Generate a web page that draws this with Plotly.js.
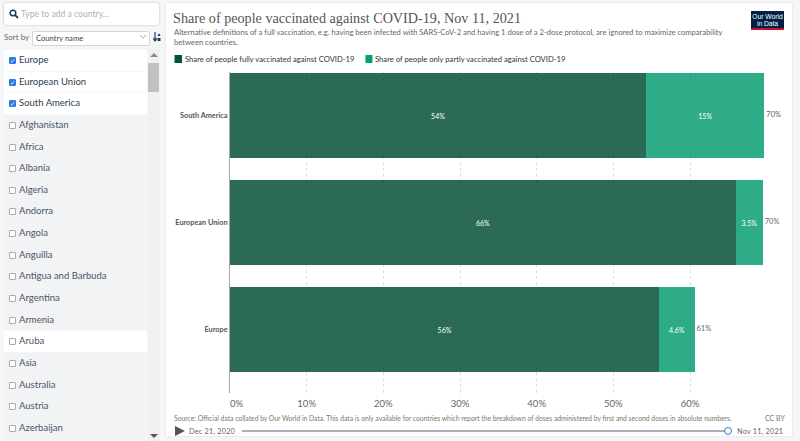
<!DOCTYPE html>
<html><head><meta charset="utf-8">
<script src="https://cdn.plot.ly/plotly-3.0.1.min.js"></script>
<style>
html,body{margin:0;padding:0;width:800px;height:441px;overflow:hidden;background:#f6f6f6;font-family:Lato,sans-serif}
.abs{position:absolute}
#card{left:166px;top:3px;width:626px;height:433px;background:#fff;box-shadow:0 0 2px rgba(0,0,0,.12)}
#plot{left:0;top:0;width:800px;height:441px}
#search{left:4px;top:3px;width:155px;height:22px;background:#fff;border-radius:2px;box-shadow:0 0 2px rgba(0,0,0,.3);color:#aab2bd;font-size:8.6px;line-height:22px;text-indent:17px}
#sortl{left:4px;top:32px;font-size:8px;color:#666}
#sort{left:32px;top:30.5px;width:116px;height:13px;border:1px solid #d5d5d5;border-radius:2px;background:#fff;font-size:7.6px;line-height:13px;text-indent:3px;color:#444}
#list{left:4px;top:50px;width:143px}
.row{height:20.65px;margin-bottom:1px;background:#f2f3f5;font-size:9.5px;line-height:20.65px;color:#4a5568;padding-left:15px;position:relative;width:128px}
.row.on{background:#fff;color:#2c3e50}
.row.w{background:#fff}
.row i{position:absolute;left:5px;top:7px;width:5px;height:5px;border:1px solid #aaa;border-radius:1px;background:#fff;font-style:normal}
.row.on i{background:#2a7de1;border-color:#2a7de1;color:#fff;font-size:6px;line-height:5px;text-align:center;font-family:"DejaVu Sans",sans-serif}
#sb{left:148px;top:49px;width:12px;height:392px;background:#f1f1f1}
#thumb{left:148px;top:63px;width:11px;height:29px;background:#c1c1c1}
#logo{left:751px;top:11px;width:33px;height:15px;background:#002147;border-bottom:2px solid #c8102e;color:#fff;font:6.7px/7px "Liberation Sans",sans-serif;text-align:center;padding-top:2px}
#track{left:242px;top:430px;width:484px;height:2px;background:#a8b0ba}
#knob{left:724px;top:427px;width:6px;height:6px;border:1.5px solid #2f80c8;border-radius:50%;background:#fff}
.date{top:426.5px;font-size:7.3px;color:#666;letter-spacing:.2px}
#play{left:175px;top:426px;width:0;height:0;border-left:10px solid #555;border-top:5.5px solid transparent;border-bottom:5.5px solid transparent}
</style></head><body>
<div id="card" class="abs"></div>
<div id="plot" class="abs"></div>
<div id="search" class="abs">Type to add a country...</div>
<svg class="abs" style="left:9px;top:9px" width="10" height="10" viewBox="0 0 10 10"><circle cx="4" cy="4" r="2.8" fill="none" stroke="#1d3d63" stroke-width="1.5"/><path d="M6 6L9 9" stroke="#1d3d63" stroke-width="1.8"/></svg>
<div id="sortl" class="abs">Sort by</div>
<div id="sort" class="abs">Country name</div>
<svg class="abs" style="left:139px;top:34px" width="8" height="6"><path d="M1 1L4 4L7 1" fill="none" stroke="#aaa"/></svg>
<svg class="abs" style="left:153px;top:32px" width="8" height="10" viewBox="0 0 8 10"><path d="M2 0V8M0 6L2 9L4 6" fill="none" stroke="#1d3d63" stroke-width="1.2"/><path d="M4.5 4L6 1L7.5 4Z" fill="#1d3d63"/><path d="M4.5 6H7.5V9H4.5Z" fill="#1d3d63"/></svg>
<div id="list" class="abs"></div>
<div id="sb" class="abs"></div>
<div id="thumb" class="abs"></div>
<svg class="abs" style="left:150px;top:53px" width="8" height="5"><path d="M0 4L4 0L8 4Z" fill="#888"/></svg>
<svg class="abs" style="left:150px;top:434px" width="8" height="5"><path d="M0 0L4 4L8 0Z" fill="#555"/></svg>
<div id="logo" class="abs">Our World<br>in Data</div>
<div id="play" class="abs"></div>
<div class="abs date" style="left:189px">Dec 21, 2020</div>
<div id="track" class="abs"></div>
<div id="knob" class="abs"></div>
<div class="abs date" style="left:737px">Nov 11, 2021</div>
<script>
var countriesOn = ["Europe","European Union","South America"];
var countriesOff = ["Afghanistan","Africa","Albania","Algeria","Andorra","Angola","Anguilla","Antigua and Barbuda","Argentina","Armenia","Aruba","Asia","Australia","Austria","Azerbaijan"];
var categories = ["Europe","European Union","South America"];
var fully = [56.0,66.0,54.3];
var partly = [4.6,3.5,15.4];
var fullyLabels = ["56%","66%","54%"];
var partlyLabels = ["4.6%","3.5%","15%"];
var totalLabels = ["61%","70%","70%"];
var xTickVals = [10,20,30,40,50,60];
var xTickText = ["10%","20%","30%","40%","50%","60%"];
var seriesNames = ["Share of people fully vaccinated against COVID-19","Share of people only partly vaccinated against COVID-19"];
var title = "Share of people vaccinated against COVID-19, Nov 11, 2021";
var subtitle = "Alternative definitions of a full vaccination, e.g. having been infected with SARS-CoV-2 and having 1 dose of a 2-dose protocol, are ignored to maximize comparability<br>between countries.";
var source = "Source: Official data collated by Our World in Data. This data is only available for countries which report the breakdown of doses administered by first and second doses in absolute numbers.";

var list = document.getElementById('list');
countriesOn.forEach(function(n){list.innerHTML += '<div class="row on"><i>✓</i>'+n+'</div>';});
countriesOff.forEach(function(n){list.innerHTML += '<div class="row'+(n==='Aruba'?' w':'')+'"><i></i>'+n+'</div>';});

var L=229.5, R=781.7, T=72, B=393;
function px(x){return (x-L)/(R-L);}
function py(y){return (B-y)/(B-T);}
function note(x,y,text,size,color,extra){
  return Object.assign({xref:'paper',yref:'paper',x:px(x-1),y:py(y),text:text,showarrow:false,xanchor:'left',yanchor:'middle',align:'left',borderpad:0,font:{family:'Lato, sans-serif',size:size,color:color}},extra||{});
}
var totals = categories.map(function(c,i){return fully[i]+partly[i];});
var traces=[
 {type:'bar',orientation:'h',y:categories,x:fully,name:seriesNames[0],text:fullyLabels,textposition:'inside',insidetextanchor:'middle',textangle:0,
  textfont:{family:'Lato, sans-serif',size:7,color:'#fff'},marker:{color:'#004d33',opacity:0.83,line:{width:0}},width:0.794,showlegend:false,hoverinfo:'skip'},
 {type:'bar',orientation:'h',y:categories,x:partly,name:seriesNames[1],text:partlyLabels,textposition:'inside',insidetextanchor:'middle',textangle:0,
  textfont:{family:'Lato, sans-serif',size:7,color:'#fff'},marker:{color:'#009a6e',opacity:0.82,line:{width:0}},width:0.794,showlegend:false,hoverinfo:'skip'},
 {type:'scatter',mode:'text',y:categories,x:totals,text:totalLabels,texttemplate:'\u00A0%{text}',textposition:'middle right',cliponaxis:false,
  textfont:{family:'Lato, sans-serif',size:7.5,color:'#666'},showlegend:false,hoverinfo:'skip'}
];
var layout={
 width:800,height:441,paper_bgcolor:'rgba(0,0,0,0)',plot_bgcolor:'rgba(0,0,0,0)',barmode:'stack',showlegend:false,
 margin:{l:L,r:800-R,t:T,b:441-B,pad:0},
 title:{text:title,x:173/800,xanchor:'left',y:1-18/441,yanchor:'middle',font:{family:'"Liberation Serif", serif',size:15.5,color:'#555'}},
 xaxis:{range:[0,72],tickmode:'array',tickvals:xTickVals,ticktext:xTickText,showline:false,zeroline:false,
   showgrid:true,gridcolor:'#ddd',griddash:'dot',gridwidth:1,ticks:'',ticklabelstandoff:3,tickfont:{family:'Lato, sans-serif',size:9.5,color:'#666'}},
 yaxis:{type:'category',categoryorder:'array',categoryarray:categories,range:[-0.593,2.407],showgrid:false,zeroline:false,showline:true,linecolor:'#aaa',linewidth:1,
   ticks:'',ticklabelstandoff:0,tickfont:{family:'Lato, sans-serif',size:7.3,color:'#555',weight:'bold'}},
 shapes:[
  {type:'rect',xref:'paper',yref:'paper',x0:px(174),x1:px(181.5),y0:py(55),y1:py(63),fillcolor:'#00533b',line:{width:0}},
  {type:'rect',xref:'paper',yref:'paper',x0:px(365),x1:px(372),y0:py(55),y1:py(63),fillcolor:'#00a077',line:{width:0}}
 ],
 annotations:[
  note(173,37,subtitle,7.6,'#666'),
  note(184,59,seriesNames[0],7.65,'#333'),
  note(375,59,seriesNames[1],7.65,'#333'),
  {xref:'x',yref:'paper',x:0,xshift:-1,y:py(403),text:'0%',showarrow:false,xanchor:'left',yanchor:'middle',borderpad:0,font:{family:'Lato, sans-serif',size:9.5,color:'#666'}},
  note(173,418,source,6.75,'#777'),
  note(765,418,'CC BY',7,'#777')
 ]
};
Plotly.newPlot('plot',traces,layout,{displayModeBar:false,staticPlot:true}).then(function(){
  var t=document.querySelector('#plot .gtitle');
  if(t){t.setAttribute('textLength','348');t.setAttribute('lengthAdjust','spacingAndGlyphs');}
});
</script>
</body></html>
